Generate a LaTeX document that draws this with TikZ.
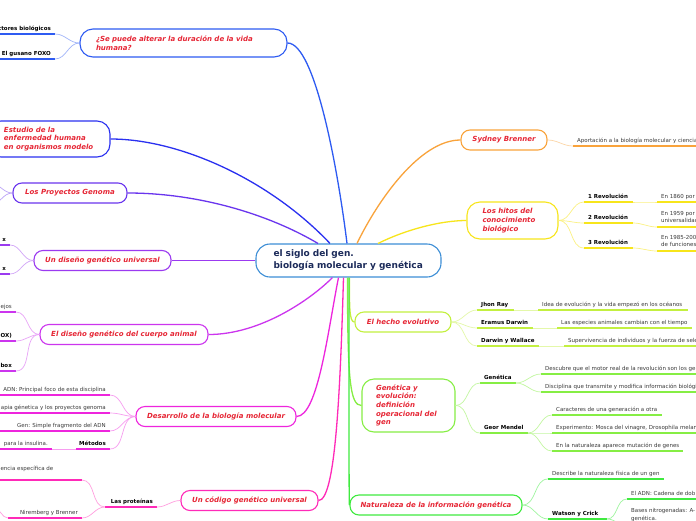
\documentclass[tikz,border=0pt]{standalone}
\usepackage{fontspec}
\setmainfont{DejaVu Sans}
\definecolor{tred}{HTML}{E62635}
\definecolor{cblue}{HTML}{3D8ED6}
\definecolor{cnavy}{HTML}{1C2B5A}
\definecolor{orng}{HTML}{F9A33B}
\definecolor{yel}{HTML}{F7E51B}
\definecolor{lime}{HTML}{C3F040}
\definecolor{grn1}{HTML}{86EE44}
\definecolor{grn2}{HTML}{3FEA3F}
\definecolor{blu1}{HTML}{2E5BF2}
\definecolor{blu2}{HTML}{2A30F0}
\definecolor{pur1}{HTML}{6A35EE}
\definecolor{pur2}{HTML}{9B3AF0}
\definecolor{mag1}{HTML}{CC35EE}
\definecolor{mag2}{HTML}{EE25DD}
\definecolor{mag3}{HTML}{FF2AB8}
\definecolor{tgray}{HTML}{3A3A3A}
\colorlet{ulc}{black}
\tikzset{
  br/.style={draw, line width=1.1pt, rounded corners=9pt, fill=white, inner xsep=8pt,
    minimum height=20pt, font=\fontsize{7}{8.7}\selectfont\bfseries\itshape, text=tred, align=left},
  leaf/.style={inner sep=0pt, font=\fontsize{5.5}{7.5}\selectfont, text=tgray, align=left},
  leafb/.style={leaf, font=\fontsize{5.5}{7.5}\selectfont\bfseries, text=black},
  ul/.style={line width=1.8pt, draw=ulc},
  mainc/.style={line width=1.3pt},
  subc/.style={line width=0.7pt},
}
% right-side leaf: text left-aligned on its underline
\newcommand{\leafR}[6]{%
  \draw[ul] (#3,#5) coordinate (#1-a) -- (#4,#5) coordinate (#1-b);
  \node[anchor=base west, #2] (#1) at (#3+4,#5-4) {#6};}
% left-side leaf: text right-aligned on its underline
\newcommand{\leafL}[6]{%
  \draw[ul] (#3,#5) coordinate (#1-a) -- (#4,#5) coordinate (#1-b);
  \node[anchor=base east, #2] (#1) at (#4-4,#5-4) {#6};}
\begin{document}
\begin{tikzpicture}[x=1pt,y=-1pt]
\useasboundingbox (0,0) rectangle (696,520);
\clip (0,0) rectangle (696,520);
\fill[white] (0,0) rectangle (696,520);

% ---------- central node ----------
\node[draw=cblue, line width=1.1pt, rounded corners=14pt, fill=white, minimum width=185pt,
  minimum height=33pt, text width=150pt, align=left,
  font=\fontsize{9}{12}\selectfont\bfseries, text=cnavy] (c) at (348.5,260.5)
  {el siglo del gen.\\biología molecular y genética};

% ---------- branch nodes ----------
\node[br, draw=orng, minimum width=86pt] (sb) at (504,140) {Sydney Brenner};
\node[br, draw=yel, minimum width=91pt, minimum height=37pt, text width=60pt, rounded corners=13pt] (hit) at (512.5,220.5) {Los hitos del\\conocimiento\\biológico};
\node[br, draw=lime, minimum width=96pt] (he) at (403,322) {El hecho evolutivo};
\node[br, draw=grn1, minimum width=93pt, minimum height=53pt, text width=65pt, rounded corners=12pt] (gye) at (408.5,405.5) {Genética y\\evolución:\\definición\\operacional del\\gen};
\node[br, draw=grn2, minimum width=172pt] (nat) at (436,505) {Naturaleza de la información genética};
\node[br, draw=blu1, minimum width=207pt, minimum height=28pt, text width=175pt, rounded corners=13pt] (sp) at (183.5,43) {¿Se puede alterar la duración de la vida\\humana?};
\node[br, draw=blu2, minimum width=122pt, minimum height=36pt, text width=90pt, rounded corners=13pt] (est) at (49,139) {Estudio de la\\enfermedad humana\\en organismos modelo};
\node[br, draw=pur1, minimum width=114pt] (pg) at (70,193) {Los Proyectos Genoma};
\node[br, draw=pur2, minimum width=137pt] (ud) at (102.5,260.5) {Un diseño genético universal};
\node[br, draw=mag1, minimum width=168pt] (dc) at (124,334.5) {El diseño genético del cuerpo animal};
\node[br, draw=mag2, minimum width=160pt] (dbm) at (216,416.5) {Desarrollo de la biología molecular};
\node[br, draw=mag3, minimum width=137pt] (cgu) at (249.5,500.5) {Un código genético universal};

% ---------- main connectors ----------
\draw[mainc, orng] ([xshift=8.5pt]c.north) .. controls (378,200) and (420,140) .. (sb.west);
\draw[mainc, yel] ([xshift=29.5pt]c.north) .. controls (405,230) and (440,220.5) .. (hit.west);
\draw[mainc, blu1] ([xshift=-1.5pt]c.north) .. controls (338,170) and (315,43) .. (sp.east);
\draw[mainc, blu2] ([xshift=-18.5pt]c.north) .. controls (270,180) and (180,139) .. (est.east);
\draw[mainc, pur1] ([xshift=-30.5pt]c.north) .. controls (270,215) and (200,193) .. (pg.east);
\draw[mainc, pur2] (c.west) -- (ud.east);
\draw[mainc, mag1] ([xshift=-16pt]c.south) .. controls (310,300) and (260,334.5) .. (dc.east);
\draw[mainc, mag2] ([xshift=-10pt]c.south) .. controls (328,330) and (318,416.5) .. (dbm.east);
\draw[mainc, mag3] ([xshift=-5pt]c.south) .. controls (340,400) and (335,500.5) .. (cgu.east);
\draw[mainc, lime] ([xshift=1pt]c.south) .. controls (349.5,305) and (349,322) .. (he.west);
\draw[mainc, grn1] ([xshift=-1pt]c.south) .. controls (347.5,380) and (350,405.5) .. (gye.west);
\draw[mainc, grn2] ([xshift=0.5pt]c.south) .. controls (349,450) and (349,505) .. (nat.west);

% ---------- Sydney Brenner ----------
\colorlet{ulc}{orng}
\leafR{sb1}{leaf}{573}{700}{146}{Aportación a la biología molecular y ciencia}
\draw[subc, orng!45] (sb.east) to[out=0,in=180] (sb1-a);

% ---------- Los hitos ----------
\colorlet{ulc}{yel}
\leafR{r1}{leafb}{584}{633}{202}{1 Revolución}
\leafR{r2}{leafb}{584}{633}{223}{2 Revolución}
\leafR{r3}{leafb}{584}{633}{248}{3 Revolución}
\leafR{r1a}{leaf}{657}{700}{202}{En 1860 por}
\leafR{r2a}{leaf, anchor=south west}{657}{700}{227}{En 1959 por\\universalidad}
\leafR{r3a}{leaf, anchor=south west}{657}{700}{251}{En 1985-200\\de funciones}
\foreach \k in {r1,r2,r3} {\draw[subc, yel!55] (hit.east) to[out=0,in=180] (\k-a);}
\draw[subc, yel!55] (r1-b) to[out=0,in=180] (r1a-a);
\draw[subc, yel!55] (r2-b) to[out=0,in=180] (r2a-a);
\draw[subc, yel!55] (r3-b) to[out=0,in=180] (r3a-a);

% ---------- El hecho evolutivo ----------
\colorlet{ulc}{lime}
\leafR{h1}{leafb}{477}{514}{310}{Jhon Ray}
\leafR{h2}{leafb}{477}{533}{328}{Eramus Darwin}
\leafR{h3}{leafb}{477}{539}{346}{Darwin y Wallace}
\leafR{h1a}{leaf}{538}{688}{310}{Idea de evolución y la vida empezó en los océanos}
\leafR{h2a}{leaf}{557}{692}{328}{Las especies animales cambian con el tiempo}
\leafR{h3a}{leaf}{564}{700}{346}{Supervivencia de individuos y la fuerza de sele}
\foreach \k in {h1,h2,h3} {\draw[subc, lime!45] (he.east) to[out=0,in=180] (\k-a);
  \draw[subc, lime!45] (\k-b) -- (\k a-a);}

% ---------- Genética y evolución ----------
\colorlet{ulc}{grn1}
\leafR{g1}{leafb}{480}{516}{383}{Genética}
\leafR{g2}{leafb}{480}{528}{433}{Geor Mendel}
\leafR{g1a}{leaf}{541}{700}{374}{Descubre que el motor real de la revolución son los ge}
\leafR{g1b}{leaf}{541}{700}{392}{Disciplina que transmite y modifica información biológi}
\leafR{g2a}{leaf}{552}{662}{415}{Caracteres de una generación a otra}
\leafR{g2b}{leaf}{552}{700}{433}{Experimento: Mosca del vinagre, Drosophila melan}
\leafR{g2c}{leaf}{552}{683}{451}{En la naturaleza aparece mutación de genes}
\draw[subc, grn1!50] (gye.east) to[out=0,in=180] (g1-a);
\draw[subc, grn1!50] (gye.east) to[out=0,in=180] (g2-a);
\draw[subc, grn1!50] (g1-b) to[out=0,in=180] (g1a-a);
\draw[subc, grn1!50] (g1-b) to[out=0,in=180] (g1b-a);
\draw[subc, grn1!50] (g2-b) to[out=0,in=180] (g2a-a);
\draw[subc, grn1!50] (g2-b) to[out=0,in=180] (g2b-a);
\draw[subc, grn1!50] (g2-b) to[out=0,in=180] (g2c-a);

% ---------- Naturaleza ----------
\colorlet{ulc}{grn2}
\leafR{n1}{leaf}{548}{664}{479}{Describe la naturaleza física de un gen}
\leafR{n2}{leafb}{548}{607}{519}{Watson y Crick}
\leafR{n2a}{leaf}{627}{700}{499}{El ADN: Cadena de dob}
\leafR{n2b}{leaf, anchor=south west}{627}{700}{525.5}{Bases nitrogenadas: A-\\genética.}
\draw[subc, grn2!50] (nat.east) to[out=0,in=180] (n1-a);
\draw[subc, grn2!50] (nat.east) to[out=0,in=180] (n2-a);
\draw[subc, grn2!50] (n2-b) to[out=0,in=180] (n2a-a);
\draw[subc, grn2!50] (n2-b) to[out=0,in=180] (n2b-a);

% ---------- ¿Se puede alterar ... ----------
\colorlet{ulc}{blu1}
\leafL{s1}{leafb}{-5}{55}{34}{ctores biológicos}
\leafL{s2}{leafb}{-5}{55}{59}{El gusano FOXO}
\draw[subc, blu1!45] (sp.west) to[out=180,in=0] (s1-b);
\draw[subc, blu1!45] (sp.west) to[out=180,in=0] (s2-b);

% ---------- Los Proyectos Genoma ----------
\coordinate (pgx1) at (-10,183);
\coordinate (pgx2) at (-10,205);
\draw[subc, pur1!45] (pg.west) to[out=180,in=0] (pgx1);
\draw[subc, pur1!45] (pg.west) to[out=180,in=0] (pgx2);

% ---------- Un diseño genético universal ----------
\colorlet{ulc}{pur2}
\leafL{u1}{leafb}{-5}{10}{245}{x}
\leafL{u2}{leafb}{-5}{10}{274}{x}
\draw[subc, pur2!45] (ud.west) to[out=180,in=0] (u1-b);
\draw[subc, pur2!45] (ud.west) to[out=180,in=0] (u2-b);

% ---------- El diseño genético del cuerpo animal ----------
\colorlet{ulc}{mag1}
\leafL{d1}{leaf}{-5}{16}{312}{ejos}
\leafL{d2}{leafb}{-5}{16}{341}{OX)}
\leafL{d3}{leafb}{-5}{16}{371}{box}
\foreach \k in {d1,d2,d3} {\draw[subc, mag1!45] (dc.west) to[out=180,in=0] (\k-b);}

% ---------- Desarrollo de la biología molecular ----------
\colorlet{ulc}{mag2}
\leafL{m1}{leaf}{-5}{110}{395}{ADN: Principal foco de esta disciplina}
\leafL{m2}{leaf}{-5}{110}{413}{apia génetica y los proyectos genoma}
\leafL{m3}{leaf}{-5}{110}{431}{Gen: Simple fragmento del ADN}
\leafL{m4}{leafb}{76}{110}{449}{Métodos}
\leafL{m4a}{leaf}{-5}{52}{449}{para la insulina.}
\foreach \k in {m1,m2,m3,m4} {\draw[subc, mag2!45] (dbm.west) to[out=180,in=0] (\k-b);}
\draw[subc, mag2!45] (m4-a) -- (m4a-b);

% ---------- Un código genético universal ----------
\colorlet{ulc}{mag3}
\leafL{p1}{leafb}{105}{157}{507}{Las proteínas}
\draw[ul] (-5,480) coordinate (p1a-a) -- (82,480) coordinate (p1a-b);
\node[leaf, anchor=base east] (p1a) at (53.5,470) {uencia específica de};
\leafL{p1b}{leaf}{8}{82}{518}{Niremberg y Brenner}
\coordinate (p1bx) at (-6,508);
\draw[subc, mag3!45] (cgu.west) to[out=180,in=0] (p1-b);
\draw[subc, mag3!45] (p1-a) to[out=180,in=0] (p1a-b);
\draw[subc, mag3!45] (p1-a) to[out=180,in=0] (p1b-b);
\draw[subc, mag3!45] (p1b-a) to[out=180,in=0] (p1bx);
\end{tikzpicture}
\end{document}
